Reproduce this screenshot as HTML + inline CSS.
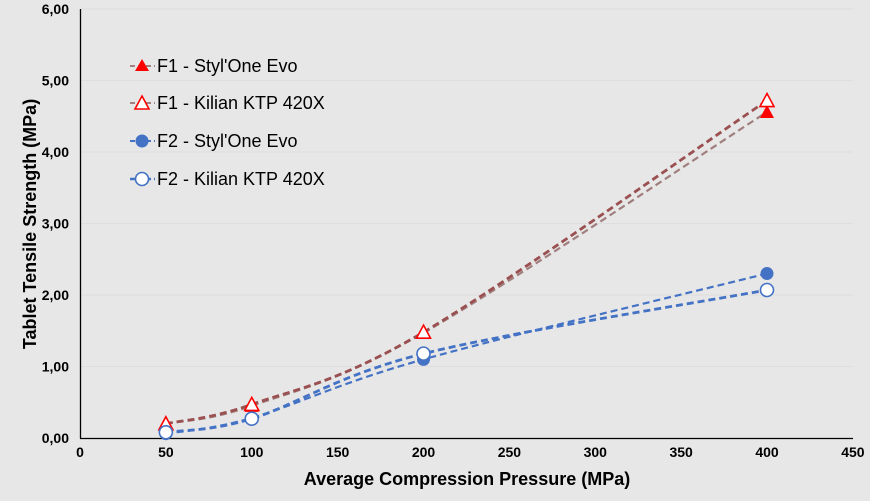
<!DOCTYPE html>
<html><head><meta charset="utf-8"><style>
html,body{margin:0;padding:0;background:#e7e7e7;}
svg{display:block;font-family:"Liberation Sans",Arial,sans-serif;}
</style></head><body>
<svg id="s" width="870" height="501" viewBox="0 0 870 501">
<rect width="870" height="501" fill="#e7e7e7"/>
<g id="grid" stroke="#dedede" stroke-width="1"></g>
<line x1="80.5" y1="9" x2="80.5" y2="438.5" stroke="#000" stroke-width="1.3"/>
<line x1="80" y1="438.5" x2="853" y2="438.5" stroke="#000" stroke-width="1.3"/>
<g id="ticks" font-size="14" font-weight="bold" fill="#000"></g>
<g id="series"></g>
<text x="467" y="485" font-size="18" font-weight="bold" text-anchor="middle">Average Compression Pressure (MPa)</text>
<text transform="translate(36,224) rotate(-90)" font-size="18" font-weight="bold" text-anchor="middle">Tablet Tensile Strength (MPa)</text>
<g font-size="18" fill="#000">
<line x1="130" y1="66" x2="155" y2="66" stroke="#a08080" stroke-width="2" stroke-dasharray="5,3"/>
<polygon points="142,59 149,71 135,71" fill="#f00"/>
<text x="157" y="72">F1 - Styl'One Evo</text>
<line x1="130" y1="103" x2="155" y2="103" stroke="#a08080" stroke-width="2" stroke-dasharray="5,3"/>
<polygon points="142,96 149,109 135,109" fill="#fff" stroke="#f00" stroke-width="1.6"/>
<text x="157" y="109">F1 - Kilian KTP 420X</text>
<line x1="130" y1="141" x2="155" y2="141" stroke="#4472c4" stroke-width="2" stroke-dasharray="5,3"/>
<circle cx="142" cy="141" r="6.5" fill="#4472c4"/>
<text x="157" y="147">F2 - Styl'One Evo</text>
<line x1="130" y1="179" x2="155" y2="179" stroke="#4472c4" stroke-width="2.5" stroke-dasharray="5,3"/>
<circle cx="142" cy="179" r="6.5" fill="#fff" stroke="#4472c4" stroke-width="1.6"/>
<text x="157" y="185">F2 - Kilian KTP 420X</text>
</g>
</svg>
<script>
var NS="http://www.w3.org/2000/svg";
function px(x){return 80+x*1.7175;}function py(y){return 438-y*71.5;}
function el(t,a,p){var e=document.createElementNS(NS,t);for(var k in a)e.setAttribute(k,a[k]);p.appendChild(e);return e;}
var g=document.getElementById("grid"),tk=document.getElementById("ticks"),sr=document.getElementById("series");
for(var i=1;i<=6;i++){el("line",{x1:81,x2:853,y1:py(i),y2:py(i)},g);}
for(var i=0;i<=6;i++){var t=el("text",{x:69,y:py(i)+5,"text-anchor":"end"},tk);t.textContent=i.toFixed(2).replace(".",",");}
for(var v=0;v<=450;v+=50){var t=el("text",{x:px(v),y:457,"text-anchor":"middle"},tk);t.textContent=v;}
var xs=[50,100,200,400];
var S=[
 {y:[0.2,0.45,1.47,4.56],c:"#a07e7e",w:2.2,m:"tf"},
 {y:[0.2,0.47,1.48,4.72],c:"#9a5050",w:2.8,m:"to"},
 {y:[0.06,0.28,1.1,2.3],c:"#4472c4",w:2.2,m:"cf"},
 {y:[0.08,0.27,1.18,2.07],c:"#4472c4",w:2.8,m:"co"}];
S.forEach(function(s){
 var P=xs.map(function(x,i){return [px(x),py(s.y[i])];});
 var d="M"+P[0][0]+","+P[0][1];
 for(var i=0;i<P.length-1;i++){
  var p0=P[Math.max(i-1,0)],p1=P[i],p2=P[i+1],p3=P[Math.min(i+2,P.length-1)],k=1/6;
  d+=" C"+(p1[0]+(p2[0]-p0[0])*k)+","+(p1[1]+(p2[1]-p0[1])*k)+" "+(p2[0]-(p3[0]-p1[0])*k)+","+(p2[1]-(p3[1]-p1[1])*k)+" "+p2[0]+","+p2[1];
 }
 el("path",{d:d,fill:"none",stroke:s.c,"stroke-width":s.w,"stroke-dasharray":"7,4"},sr);
});
S.forEach(function(s){
 xs.forEach(function(x,i){var X=px(x),Y=py(s.y[i]);
  if(s.m=="tf")el("polygon",{points:X+","+(Y-7)+" "+(X+7)+","+(Y+6)+" "+(X-7)+","+(Y+6),fill:"#f00"},sr);
  if(s.m=="to")el("polygon",{points:X+","+(Y-7)+" "+(X+7)+","+(Y+6)+" "+(X-7)+","+(Y+6),fill:"#fff",stroke:"#f00","stroke-width":1.6},sr);
  if(s.m=="cf")el("circle",{cx:X,cy:Y,r:6.5,fill:"#4472c4"},sr);
  if(s.m=="co")el("circle",{cx:X,cy:Y,r:6.5,fill:"#fff",stroke:"#4472c4","stroke-width":1.6},sr);
 });
});
</script>
</body></html>
